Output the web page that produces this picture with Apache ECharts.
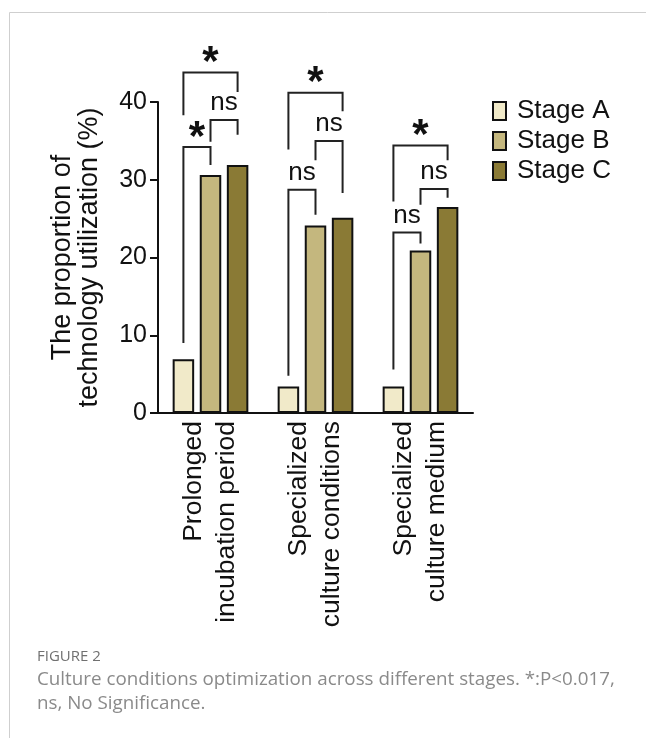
<!DOCTYPE html>
<html>
<head>
<meta charset="utf-8">
<script src="https://cdn.jsdelivr.net/npm/echarts@6/dist/echarts.min.js"></script>
<style>
  html, body { margin: 0; padding: 0; background: #fff; }
  #chart { width: 646px; height: 738px; }
</style>
</head>
<body>
<div id="chart"></div>
<script>
// Categories and stage values (%)
const categories = ['Prolonged\nincubation period', 'Specialized\nculture conditions', 'Specialized\nculture medium'];
const stageNames = ['Stage A', 'Stage B', 'Stage C'];
const stageA = [6.9, 3.4, 3.4];
const stageB = [30.6, 24.1, 20.9];
const stageC = [31.9, 25.1, 26.5];
const yTicks = [0, 10, 20, 30, 40];

// Significance brackets, per group, in the order A-B, B-C, A-C
const sigPairs = [[0, 1], [1, 2], [0, 2]];
const sigLabels = [['*', 'ns', '*'], ['ns', 'ns', '*'], ['ns', 'ns', '*']];
const bracketTop = [[34.2, 37.7, 43.8], [28.7, 35.0, 41.2], [23.2, 28.8, 34.4]];
const bracketLeftEnd = [[9.0, 34.9, 38.3], [4.8, 32.5, 33.9], [5.6, 26.8, 27.2]];
const bracketRightEnd = [[31.9, 35.8, 41.3], [25.5, 28.3, 38.8], [21.8, 27.7, 32.5]];

const colors = ['#F1EAC9', '#C4B77E', '#8A7A35'];
const BAR_W = 21.5;
const BAR_GAP = 0.26;
const FONT = '"Liberation Sans", Arial, Helvetica, sans-serif';

const bracketData = [];
const bracketText = [];
categories.forEach((c, g) => {
  sigPairs.forEach((p, k) => {
    bracketData.push([g, p[0], p[1], bracketTop[g][k], bracketLeftEnd[g][k], bracketRightEnd[g][k]]);
    bracketText.push(sigLabels[g][k]);
  });
});

const chart = echarts.init(document.getElementById('chart'), null, { renderer: 'canvas' });

function renderBracket(params, api) {
  const g = api.value(0);
  const from = api.value(1), to = api.value(2);
  const pitch = BAR_W * (1 + BAR_GAP);
  const center = api.coord([g, 0])[0];
  const xl = center + (from - 1) * pitch;
  const xr = center + (to - 1) * pitch;
  const yTop = api.coord([g, api.value(3)])[1];
  const yL = api.coord([g, api.value(4)])[1];
  const yR = api.coord([g, api.value(5)])[1];
  const label = bracketText[params.dataIndex];
  const isStar = label === '*';
  return {
    type: 'group',
    children: [
      {
        type: 'polyline',
        shape: { points: [[xl, yL], [xl, yTop], [xr, yTop], [xr, yR]] },
        style: { stroke: '#222', lineWidth: 2, fill: null }
      },
      {
        type: 'text',
        x: (xl + xr) / 2,
        y: isStar ? yTop - 9 : yTop - 17,
        style: {
          text: label,
          textAlign: 'center',
          textVerticalAlign: 'middle',
          font: isStar ? ('bold 42px ' + FONT) : ('26px ' + FONT),
          fill: '#111'
        }
      }
    ]
  };
}

const barSeries = [stageA, stageB, stageC].map((vals, i) => ({
  name: stageNames[i],
  type: 'bar',
  data: vals,
  barWidth: BAR_W,
  barGap: (BAR_GAP * 100) + '%',
  itemStyle: { color: colors[i], borderColor: '#111', borderWidth: 2 },
  emphasis: { disabled: true }
}));

chart.setOption({
  animation: false,
  backgroundColor: '#fff',
  textStyle: { fontFamily: FONT },
  grid: { left: 158, right: 173, top: 102, bottom: 325, containLabel: false },
  legend: {
    data: stageNames,
    orient: 'vertical',
    left: 492,
    top: 98,
    padding: 0,
    icon: 'rect',
    itemWidth: 13,
    itemHeight: 18,
    itemGap: 4,
    textStyle: { fontSize: 26, color: '#111', fontFamily: FONT, padding: [0, 0, 0, 6] }
  },
  xAxis: {
    type: 'category',
    data: categories,
    axisLine: { lineStyle: { color: '#111', width: 2 } },
    axisTick: { show: false },
    axisLabel: {
      rotate: 90,
      interval: 0,
      margin: 8,
      fontSize: 26.5,
      lineHeight: 33,
      color: '#111',
      fontFamily: FONT
    }
  },
  yAxis: {
    type: 'value',
    min: yTicks[0],
    max: yTicks[yTicks.length - 1],
    interval: yTicks[1] - yTicks[0],
    name: 'The proportion of\ntechnology utilization (%)',
    nameLocation: 'middle',
    nameRotate: 90,
    nameGap: 55,
    nameTextStyle: { fontSize: 27, lineHeight: 27, color: '#111', fontFamily: FONT },
    axisLine: { show: true, lineStyle: { color: '#111', width: 2 } },
    axisTick: { show: true, length: 8, lineStyle: { color: '#111', width: 2 } },
    axisLabel: { fontSize: 25, color: '#111', margin: 11, fontFamily: FONT },
    splitLine: { show: false }
  },
  series: barSeries.concat([{
    type: 'custom',
    name: 'significance',
    renderItem: renderBracket,
    data: bracketData,
    encode: { x: 0, y: 3 },
    clip: false,
    silent: true,
    z: 5
  }]),
  graphic: [
    { type: 'line', shape: { x1: 9.5, y1: 12.5, x2: 646, y2: 12.5 }, style: { stroke: '#cfcfcf', lineWidth: 1 } },
    { type: 'line', shape: { x1: 9.5, y1: 12.5, x2: 9.5, y2: 738 }, style: { stroke: '#cfcfcf', lineWidth: 1 } },
    { type: 'text', left: 37, top: 649, style: { text: 'FIGURE 2', font: '15px "Open Sans", sans-serif', fill: '#707070' } },
    { type: 'text', left: 37, top: 670, style: { text: 'Culture conditions optimization across different stages. *:P<0.017,', font: '18.8px "Open Sans", sans-serif', fill: '#8a8a8a' } },
    { type: 'text', left: 37, top: 694, style: { text: 'ns, No Significance.', font: '18.8px "Open Sans", sans-serif', fill: '#8a8a8a' } }
  ]
});
</script>
</body>
</html>
